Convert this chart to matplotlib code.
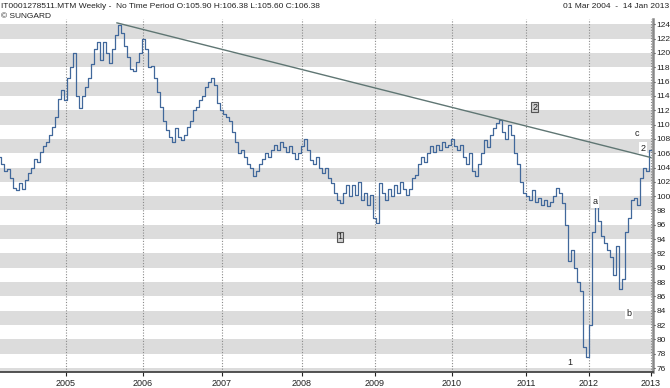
import numpy as np
import matplotlib
matplotlib.use('Agg')
import matplotlib.pyplot as plt

plt.rcParams['font.family'] = ['Liberation Sans', 'DejaVu Sans']

# weekly closes, one value every 2 bars (bar index 0 = 01 Mar 2004)
closes = [
    105.5, 104.5, 103.5, 103.8, 102.5, 101.2, 100.9, 101.8, 101.0, 102.3,
    103.2, 104.0, 105.2, 104.8, 106.2, 107.0, 107.6, 108.6, 109.6, 111.0,
    113.5, 114.8, 113.4,
    116.5, 118.0, 120.0, 114.0, 112.3, 114.0, 115.2, 116.5, 118.4, 120.5,
    121.5, 119.0, 121.5, 120.0, 118.6, 120.5, 122.5, 123.9, 122.8, 121.0,
    119.5, 117.8, 117.5, 118.7, 120.0, 122.0,
    120.5, 118.0, 118.2, 116.5, 114.5, 112.5, 110.5, 109.2, 108.2, 107.6,
    109.5, 108.3, 107.8, 108.5, 109.6, 110.5, 112.0, 112.5, 113.4, 114.0,
    115.2, 116.0, 116.5, 115.5, 113.0, 112.0,
    111.5, 111.0, 110.5, 109.0, 107.5, 106.0, 106.5, 105.5, 104.5, 104.0,
    102.8, 103.5, 104.5, 105.2, 106.0, 105.5, 106.5, 107.2, 106.5, 107.5,
    106.8, 106.2, 107.0, 106.0, 105.2, 106.0,
    107.0, 108.0, 106.5, 105.0, 104.5, 105.5, 104.0, 103.2, 104.0, 102.5,
    101.8, 100.5, 99.5, 99.0, 100.5, 101.5, 100.0, 101.5, 100.2, 102.0,
    99.5, 100.5, 98.8, 100.2, 97.0, 96.3,
    101.8, 100.5, 99.5, 101.0, 100.0, 101.5, 100.5, 102.0, 101.0, 100.2,
    101.0, 102.5, 103.0, 104.5, 105.5, 104.8, 106.0, 107.0, 106.2, 107.2,
    106.5, 107.5, 106.8, 107.2, 108.0, 107.0,
    106.5, 107.2, 105.5, 104.5, 106.0, 103.5, 102.8, 104.5, 106.0, 107.8,
    106.8, 108.5, 109.5, 110.2, 110.6, 109.0, 108.0, 110.0, 108.5, 106.0,
    104.5, 102.0, 100.5, 100.0, 99.5, 100.8,
    99.2, 99.8, 98.8, 99.5, 98.6, 99.2, 100.0, 101.2, 100.5, 99.0,
    96.0, 91.0, 92.5, 90.0, 88.0, 86.8, 79.0, 77.5, 82.0, 95.0,
    98.5, 96.5, 94.5, 93.5, 92.5, 91.5,
    89.0, 93.0, 87.0, 88.5, 95.0, 97.0, 99.5, 99.8, 98.8, 102.5,
    104.0, 103.5, 106.4,
]
bars = np.arange(len(closes)) * 2

years = ['2005', '2006', '2007', '2008', '2009', '2010', '2011', '2012', '2013']
year_bars = [44, 95.3, 148, 201.3, 250, 301.3, 350.7, 392.7, 434]

yticks = list(range(76, 125, 2))

trend_x = [78, 434]
trend_y = [124.2, 105.4]

wave_labels = ['c', '2', 'a', 'b', '1']
wave_x = [424.7, 428.7, 396.7, 419.3, 380]
wave_y = [108.8, 106.7, 99.2, 83.6, 76.8]

boxed_labels = ['2', '1']
boxed_x = [356.7, 226.7]
boxed_y = [112.45, 94.3]

fig = plt.figure(figsize=(6.7, 3.88), dpi=100)
ax = fig.add_axes([0.0, 0.0412, 0.9742, 0.951 - 0.0412])

for lo in range(74, 124, 4):
    ax.axhspan(lo, lo + 2, color='#dcdcdc', lw=0, zorder=0)

for xb in year_bars:
    ax.axvline(xb, color='#8a8a8a', lw=0.8, ls=(0, (1, 1.5)), zorder=1)

ax.step(bars, closes, where='mid', color='#41689b', lw=0.9, zorder=3)
ax.plot(trend_x, trend_y, color='#5f7673', lw=1.0, zorder=4)

for t, x, y in zip(wave_labels, wave_x, wave_y):
    ax.text(x, y, t, fontsize=6.5, ha='center', va='center', color='#222222',
            bbox=dict(boxstyle='square,pad=0.15', fc='white', ec='none'), zorder=5)
for t, x, y in zip(boxed_labels, boxed_x, boxed_y):
    ax.text(x, y, t, fontsize=6.5, ha='center', va='center', color='#222222',
            bbox=dict(boxstyle='square,pad=0.1', fc='#d0d0d0', ec='#555555', lw=0.8), zorder=5)

ax.set_xlim(0, 435.3)
ax.set_ylim(75.44, 124.74)
ax.set_xticks(year_bars)
ax.set_xticklabels(years)
ax.set_yticks(yticks)
ax.yaxis.tick_right()
ax.tick_params(axis='x', length=3, width=0.8, pad=2, labelsize=6.5, colors='#222222')
ax.tick_params(axis='y', length=1.5, width=0.8, pad=1, labelsize=6, colors='#222222')

for sp in ['top', 'left']:
    ax.spines[sp].set_visible(False)
ax.spines['bottom'].set_color('#444444')
ax.spines['bottom'].set_linewidth(1.3)
ax.spines['right'].set_color('#888888')
ax.spines['right'].set_linewidth(1.8)

fig.text(0.001, 1 - 6 / 388, 'IT0001278511.MTM Weekly -  No Time Period O:105.90 H:106.38 L:105.60 C:106.38',
         fontsize=6, va='center', ha='left', color='#222222')
fig.text(0.001, 1 - 16 / 388, '\u00a9 SUNGARD', fontsize=6, va='center', ha='left', color='#222222')
fig.text(0.998, 1 - 6 / 388, '01 Mar 2004  -  14 Jan 2013', fontsize=6, va='center', ha='right',
         color='#222222')

fig.savefig('out.png', dpi=100)
